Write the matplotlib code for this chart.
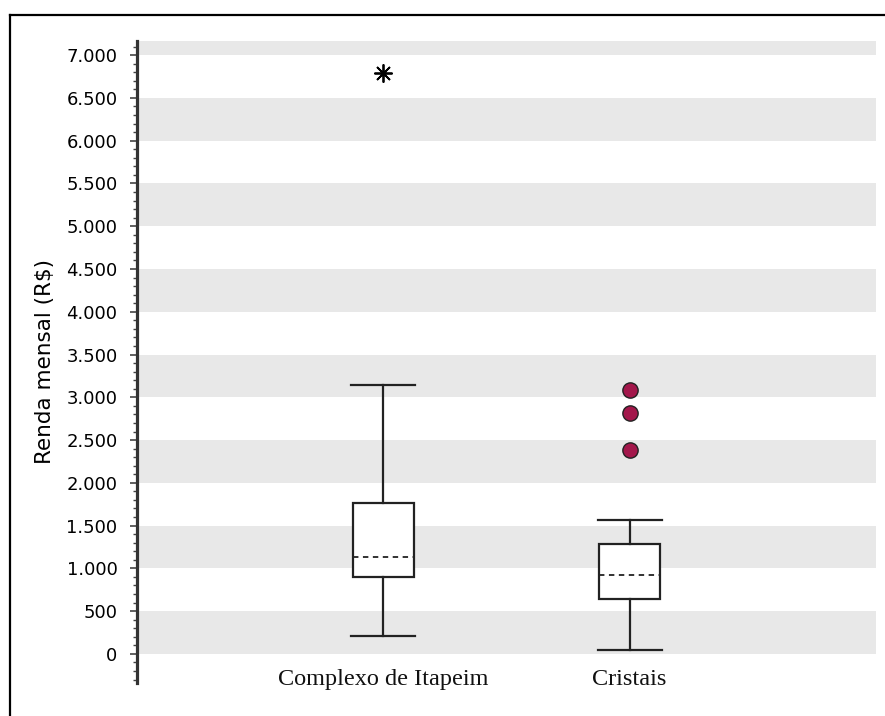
import matplotlib
matplotlib.use("Agg")
import matplotlib.pyplot as plt
from matplotlib.lines import Line2D
from matplotlib.ticker import FixedLocator, MultipleLocator

# Monthly income by area (R$)
groups = ["Complexo de Itapeim", "Cristais"]
whisker_low = [215, 50]
q1 = [895, 645]
median = [1135, 920]
q3 = [1765, 1285]
whisker_high = [3140, 1570]
outliers = [[6790], [2385, 2815, 3085]]

y_ticks = [0, 500, 1000, 1500, 2000, 2500, 3000, 3500,
           4000, 4500, 5000, 5500, 6000, 6500, 7000]
y_tick_labels = ["0", "500", "1.000", "1.500", "2.000", "2.500", "3.000", "3.500",
                 "4.000", "4.500", "5.000", "5.500", "6.000", "6.500", "7.000"]

fig = plt.figure(figsize=(8.85, 7.16), dpi=100)
ax = fig.add_axes([137 / 885, 1 - 683 / 716, (876 - 137) / 885, (683 - 41) / 716])

ax.set_xlim(0, 3)
ax.set_ylim(-340, 7165)

# alternating grey bands
for lo in range(0, 7500, 1000):
    ax.axhspan(lo, lo + 500, color="#e8e8e8", lw=0, zorder=0)

stats = []
for i, name in enumerate(groups):
    stats.append(dict(label=name, whislo=whisker_low[i], q1=q1[i], med=median[i],
                      q3=q3[i], whishi=whisker_high[i], fliers=outliers[i]))

positions = [1, 2]
res = ax.bxp(stats, positions=positions, widths=0.25, patch_artist=True,
             boxprops=dict(facecolor="white", edgecolor="#222222", linewidth=1.6),
             whiskerprops=dict(color="#222222", linewidth=1.6),
             capprops=dict(color="#222222", linewidth=1.6),
             medianprops=dict(color="#222222", linewidth=1.3, linestyle=(0, (3, 2.5))),
             capwidths=0.26, manage_ticks=False)

# outlier markers differ per group
res["fliers"][0].set(marker=(8, 2, 0), markersize=13, markeredgecolor="black",
                     markeredgewidth=1.3, markerfacecolor="none", linestyle="none")
res["fliers"][1].set(marker="o", markersize=11, markerfacecolor="#a3174b",
                     markeredgecolor="#222222", markeredgewidth=1.0, linestyle="none")

# axes styling
for side in ["top", "right", "bottom"]:
    ax.spines[side].set_visible(False)
ax.spines["left"].set_linewidth(2.3)
ax.spines["left"].set_color("#333333")

ax.yaxis.set_major_locator(FixedLocator(y_ticks))
ax.set_yticklabels(y_tick_labels, fontsize=13, family="DejaVu Sans")
ax.yaxis.set_minor_locator(MultipleLocator(100))
ax.tick_params(axis="y", which="major", length=5, width=1.2, color="#444444", pad=9)
ax.tick_params(axis="y", which="minor", length=3, width=1.0, color="#444444")
ax.set_xticks([])

ax.set_ylabel("Renda mensal (R$)", fontsize=15.5, family="DejaVu Sans", labelpad=8)

for pos, name in zip(positions, groups):
    ax.text(pos, -180, name, ha="center", va="top", fontsize=17.5,
            family="Liberation Serif", color="#111111")

# outer frame lines
fig.add_artist(Line2D([10 / 885, 10 / 885], [0, 1 - 15 / 716], color="black", lw=1.6))
fig.add_artist(Line2D([10 / 885, 1], [1 - 15 / 716, 1 - 15 / 716], color="black", lw=1.6))

fig.savefig("out.png", dpi=100)
